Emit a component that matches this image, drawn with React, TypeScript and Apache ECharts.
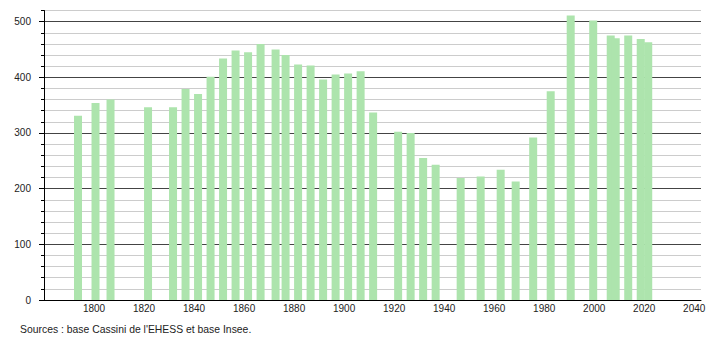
import React, { useEffect, useRef } from "react";
import * as echarts from "echarts";

const years = [
  1793, 1800, 1806, 1821, 1831, 1836, 1841, 1846, 1851, 1856, 1861, 1866, 1872,
  1876, 1881, 1886, 1891, 1896, 1901, 1906, 1911, 1921, 1926, 1931, 1936, 1946,
  1954, 1962, 1968, 1975, 1982, 1990, 1999, 2006, 2008, 2013, 2018, 2021,
];
const population = [
  331, 354, 360, 346, 346, 379, 370, 401, 434, 448, 445, 460, 450,
  440, 423, 421, 396, 405, 407, 411, 337, 302, 300, 255, 243, 219,
  222, 234, 213, 292, 375, 511, 502, 475, 470, 475, 469, 463,
];
const yMajorTicks = [0, 100, 200, 300, 400, 500];
const sourceText = "Sources : base Cassini de l'EHESS et base Insee.";

const FONT = "'Liberation Sans', Arial, sans-serif";
const BAR_SHIFT = 0.6;

export default function App() {
  const ref = useRef<HTMLDivElement>(null);
  useEffect(() => {
    if (!ref.current) return;
    const chart = echarts.init(ref.current, null, { renderer: "svg" });
    chart.setOption({
      animation: false,
      backgroundColor: "#ffffff",
      textStyle: { fontFamily: FONT },
      grid: { left: 44, right: 9, top: 10.5, bottom: 40, containLabel: false },
      xAxis: {
        type: "value",
        min: 1780,
        max: 2042.7,
        interval: 20,
        splitLine: { show: false },
        axisTick: { show: false },
        axisLine: { show: true, lineStyle: { color: "#000", width: 1 } },
        axisLabel: {
          color: "#222",
          fontSize: 10,
          fontFamily: FONT,
          margin: 3,
          formatter: (v: number) => (v % 20 === 0 && v > 1780 ? String(v) : ""),
        },
      },
      yAxis: [
        {
          type: "value",
          position: "left",
          min: 0,
          max: 520,
          interval: 20,
          axisLine: { show: true, lineStyle: { color: "#000", width: 1 } },
          axisTick: { show: true, length: 3, lineStyle: { color: "#000" } },
          splitLine: {
            show: true,
            lineStyle: { color: ["#444", "#ccc", "#ccc", "#ccc", "#ccc"], width: 1 },
          },
          axisLabel: {
            color: "#222",
            fontSize: 10,
            fontFamily: FONT,
            margin: 13,
            formatter: (v: number) => (yMajorTicks.includes(v) ? String(v) : ""),
          },
        },
        {
          type: "value",
          position: "left",
          min: 0,
          max: 520,
          interval: 100,
          axisLine: { show: false },
          axisTick: {
            show: true,
            length: 5,
            lineStyle: { color: "#000" },
            customValues: yMajorTicks,
          },
          splitLine: { show: false },
          axisLabel: { show: false },
        },
      ],
      graphic: [
        {
          type: "text",
          left: 20,
          top: 324,
          style: {
            text: sourceText,
            fill: "#222",
            fontSize: 10.4,
            fontFamily: FONT,
          },
        },
      ],
      series: [
        {
          type: "bar",
          xAxisIndex: 0,
          yAxisIndex: 0,
          barWidth: 8,
          itemStyle: { color: "#ade4ad" },
          data: years.map((y, i) => [y + BAR_SHIFT, population[i]]),
        },
      ],
    });
    return () => chart.dispose();
  }, []);
  return (
    <div
      ref={ref}
      style={{ position: "fixed", left: 0, top: 0, width: 710, height: 340 }}
    />
  );
}
